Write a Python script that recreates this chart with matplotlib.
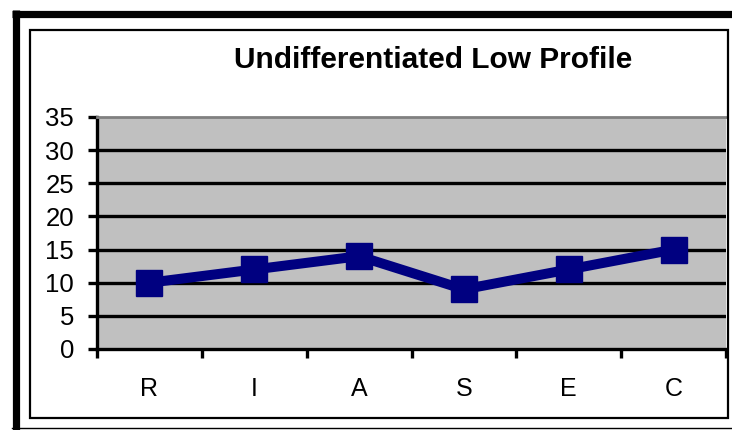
import matplotlib.pyplot as plt
from matplotlib.lines import Line2D
from matplotlib.patches import Rectangle

categorias = ["R", "I", "A", "S", "E", "C"]
valores = [10, 12, 14, 9, 12, 15]
ticks_y = [0, 5, 10, 15, 20, 25, 30, 35]

plt.rcParams['font.family'] = ['Liberation Sans', 'DejaVu Sans']

W, H = 732, 430
fig = plt.figure(figsize=(W / 100, H / 100), dpi=100)

def fx(px):
    return px / W

def fy(py):
    return 1 - py / H

# marco exterior (grueso arriba e izquierda, fino abajo)
fig.add_artist(Line2D([fx(12), 1], [fy(13.5), fy(13.5)], color='black', lw=5.2,
                      solid_capstyle='butt', transform=fig.transFigure))
fig.add_artist(Line2D([fx(15.5), fx(15.5)], [fy(10), 0], color='black', lw=5.2,
                      solid_capstyle='butt', transform=fig.transFigure))
fig.add_artist(Line2D([fx(12), 1], [fy(428), fy(428)], color='black', lw=1.0, transform=fig.transFigure))

# marco interior del grafico
fig.add_artist(Rectangle((fx(30), fy(418)), fx(728) - fx(30), fy(30) - fy(418),
                         fill=False, edgecolor='black', lw=1.6, transform=fig.transFigure))

ax = fig.add_axes([fx(97), fy(349), fx(726) - fx(97), fy(117) - fy(349)])
ax.set_facecolor('#C0C0C0')

for v in ticks_y[1:-1]:
    ax.axhline(v, color='black', lw=2.4, zorder=1)

x = list(range(len(categorias)))
ax.plot(x, valores, color='#000080', lw=7.2, marker='s', markersize=19,
        markeredgecolor='#000080', solid_joinstyle='miter', zorder=3, clip_on=False)

ax.set_xlim(-0.5, len(categorias) - 0.5)
ax.set_ylim(0, 35)
ax.set_yticks(ticks_y)
ax.set_xticks([i - 0.5 for i in range(len(categorias) + 1)])
ax.set_xticklabels([])
ax.set_xticks(x, minor=True)
ax.set_xticklabels(categorias, minor=True)

ax.tick_params(axis='y', direction='out', length=6.5, width=2.4, labelsize=18.5, pad=10)
ax.tick_params(axis='x', which='major', direction='out', length=6.5, width=2.4)
ax.tick_params(axis='x', which='minor', length=0, labelsize=18, pad=20)

ax.spines['left'].set_linewidth(2.4)
ax.spines['bottom'].set_linewidth(2.4)
ax.spines['top'].set_color('#808080')
ax.spines['top'].set_linewidth(2.0)
ax.spines['right'].set_visible(False)

fig.text(fx(433), fy(60), "Undifferentiated Low Profile", ha='center', va='center',
         fontsize=21.5, fontweight='bold')

fig.savefig("out.png", dpi=100)
